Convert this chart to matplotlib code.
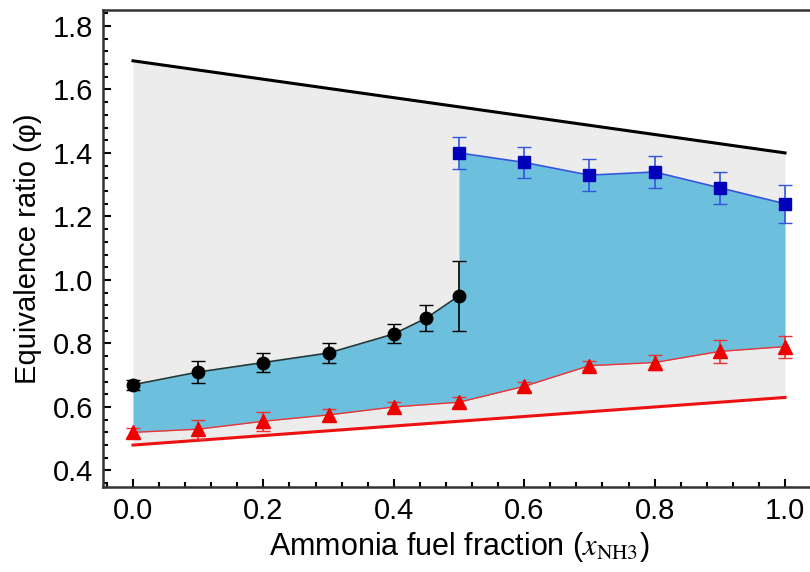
import numpy as np
import matplotlib.pyplot as plt
from matplotlib.ticker import MultipleLocator

plt.rcParams['font.family'] = ['Liberation Sans', 'DejaVu Sans']
plt.rcParams['mathtext.fontset'] = 'stix'

# limites (lineas rectas)
lim_x = [0.0, 1.0]
lim_sup = [1.69, 1.40]
lim_inf = [0.48, 0.63]

# circulos negros
x_neg = [0.0, 0.1, 0.2, 0.3, 0.4, 0.45, 0.5]
y_neg = [0.67, 0.71, 0.74, 0.77, 0.83, 0.88, 0.95]
e_neg = [0.015, 0.035, 0.03, 0.03, 0.03, 0.04, 0.11]

# cuadrados azules
x_az = [0.5, 0.6, 0.7, 0.8, 0.9, 1.0]
y_az = [1.40, 1.37, 1.33, 1.34, 1.29, 1.24]
e_az = [0.05, 0.05, 0.05, 0.05, 0.05, 0.06]

# triangulos rojos
x_roj = [0.0, 0.1, 0.2, 0.3, 0.4, 0.5, 0.6, 0.7, 0.8, 0.9, 1.0]
y_roj = [0.52, 0.53, 0.555, 0.575, 0.60, 0.615, 0.665, 0.73, 0.74, 0.775, 0.79]
e_roj = [0.015, 0.03, 0.03, 0.02, 0.015, 0.015, 0.015, 0.015, 0.025, 0.035, 0.035]

fig = plt.figure(figsize=(8.1, 5.72), dpi=100)
ax = fig.add_axes([103/810, 1 - 487/572, 712/810, 477/572])

# zona gris
ax.fill_between(lim_x, lim_inf, lim_sup, color='#ececec', lw=0, zorder=0)

# zona azul: arriba negros hasta 0.5, luego azules
x_top = x_neg + x_az
y_top = y_neg + y_az
y_bot = np.interp(x_top, x_roj, y_roj)
ax.fill_between(x_top, y_bot, y_top, color='#6cc0de', lw=0, zorder=1)

ax.plot(lim_x, lim_sup, color='black', lw=2.2, zorder=3)
ax.plot(lim_x, lim_inf, color='#ee1111', lw=2.2, zorder=3)

ax.errorbar(x_neg, y_neg, yerr=e_neg, fmt='o-', color='#223838', mfc='black',
            mec='black', ms=9, lw=1.2, elinewidth=1.2, capsize=5,
            ecolor='black', zorder=4)
ax.errorbar(x_az, y_az, yerr=e_az, fmt='s-', color='#3355dd', mfc='#0000bb',
            mec='#0000bb', ms=9, lw=1.2, elinewidth=1.2, capsize=5, zorder=4)
ax.errorbar(x_roj, y_roj, yerr=e_roj, fmt='^-', color='#ee3333', mfc='#ee0000',
            mec='#ee0000', ms=10, lw=1.0, elinewidth=1.2, capsize=5, zorder=4)

ax.set_xlim(-0.046, 1.046)
ax.set_ylim(0.348, 1.85)
ax.xaxis.set_major_locator(MultipleLocator(0.2))
ax.xaxis.set_minor_locator(MultipleLocator(0.04))
ax.yaxis.set_major_locator(MultipleLocator(0.2))
ax.yaxis.set_minor_locator(MultipleLocator(0.04))
ax.tick_params(which='both', direction='in', top=False, right=False,
               labelsize=21, width=1.5)
ax.tick_params(which='major', length=6, pad=7)
ax.tick_params(which='minor', length=3.5)
ax.xaxis.set_major_formatter(plt.FormatStrFormatter('%.1f'))
ax.yaxis.set_major_formatter(plt.FormatStrFormatter('%.1f'))
for s in ax.spines.values():
    s.set_linewidth(1.8)
    s.set_color('#333333')

ax.set_xlabel(r'Ammonia fuel fraction ($x_{\mathrm{NH3}}$)', fontsize=22, labelpad=4)
ax.set_ylabel('Equivalence ratio (φ)', fontsize=21, labelpad=8)

fig.savefig('out.png', dpi=100)
